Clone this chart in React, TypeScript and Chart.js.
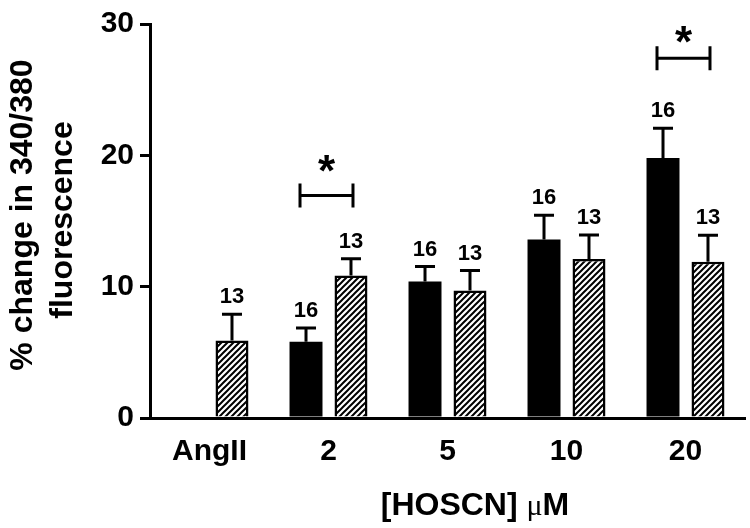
import React, { useEffect, useRef } from "react";
import { Chart, registerables } from "chart.js";

Chart.register(...registerables);

// ---- data ----
const categories = ["AngII", "2", "5", "10", "20"];
const blackValues = [null, 5.8, 10.4, 13.6, 19.8];
const blackErrors = [null, 1.06, 1.13, 1.84, 2.26];
const hatchedValues = [5.9, 10.85, 9.7, 12.1, 11.9];
const hatchedErrors = [2.0, 1.28, 1.53, 1.84, 2.02];
const blackN = [null, "16", "16", "16", "16"];
const hatchedN = ["13", "13", "13", "13", "13"];
const yTicks = [0, 10, 20, 30];
const sigCategories = [1, 4];
const sigBracketValues = [16.95, 27.4];
const sigStarValues = [19.4, 29.2];
const yTitleLines = ["% change in 340/380", "fluorescence"];
const xTitleParts = ["[HOSCN] ", "\u03bc", "M"];

const SANS = '"Liberation Sans", Arial, Helvetica, sans-serif';

function makeHatch(): CanvasPattern | string {
  const s = 6;
  const c = document.createElement("canvas");
  c.width = s;
  c.height = s;
  const g = c.getContext("2d");
  if (!g) return "#fff";
  g.fillStyle = "#fff";
  g.fillRect(0, 0, s, s);
  g.strokeStyle = "#000";
  g.lineWidth = 2;
  g.beginPath();
  g.moveTo(0, s);
  g.lineTo(s, 0);
  g.moveTo(-1, 1);
  g.lineTo(1, -1);
  g.moveTo(s - 1, s + 1);
  g.lineTo(s + 1, s - 1);
  g.stroke();
  return g.createPattern(c, "repeat") || "#fff";
}

const annotatePlugin = {
  id: "annotate",
  afterDatasetsDraw(chart: any) {
    const ctx = chart.ctx;
    const y = chart.scales.y;
    const errs = [blackErrors, hatchedErrors];
    const vals = [blackValues, hatchedValues];
    const ns = [blackN, hatchedN];
    ctx.save();
    ctx.strokeStyle = "#000";
    ctx.fillStyle = "#000";
    ctx.lineWidth = 3;
    ctx.lineCap = "butt";
    for (let d = 0; d < 2; d++) {
      const meta = chart.getDatasetMeta(d);
      meta.data.forEach((bar: any, i: number) => {
        const v = vals[d][i];
        const e = errs[d][i];
        if (v == null || e == null) return;
        const top = y.getPixelForValue(v + e);
        const x = bar.x;
        ctx.beginPath();
        ctx.moveTo(x, bar.y);
        ctx.lineTo(x, top);
        ctx.moveTo(x - 10, top);
        ctx.lineTo(x + 10, top);
        ctx.stroke();
        const label = ns[d][i];
        if (label) {
          ctx.font = `bold 22px ${SANS}`;
          ctx.textAlign = "center";
          ctx.textBaseline = "alphabetic";
          ctx.fillText(label, x, top - 11);
        }
      });
    }
    // significance brackets
    const m0 = chart.getDatasetMeta(0);
    const m1 = chart.getDatasetMeta(1);
    sigCategories.forEach((cat, k) => {
      const left = m0.data[cat].x - 6;
      const right = m1.data[cat].x + 2;
      const by = y.getPixelForValue(sigBracketValues[k]);
      ctx.beginPath();
      ctx.moveTo(left, by);
      ctx.lineTo(right, by);
      ctx.moveTo(left, by - 12);
      ctx.lineTo(left, by + 12);
      ctx.moveTo(right, by - 12);
      ctx.lineTo(right, by + 12);
      ctx.stroke();
      ctx.font = `bold 44px ${SANS}`;
      ctx.textAlign = "center";
      ctx.textBaseline = "alphabetic";
      const m = ctx.measureText("*");
      const sy = y.getPixelForValue(sigStarValues[k]);
      const asc = m.actualBoundingBoxAscent;
      const desc = m.actualBoundingBoxDescent;
      ctx.fillText("*", (left + right) / 2, sy + (asc - desc) / 2);
    });
    // x title
    ctx.textBaseline = "alphabetic";
    ctx.textAlign = "left";
    const fonts = [`bold 32px ${SANS}`, `30px "Liberation Serif", "Times New Roman", serif`, `bold 32px ${SANS}`];
    let total = 0;
    xTitleParts.forEach((p, i) => {
      ctx.font = fonts[i];
      total += ctx.measureText(p).width;
    });
    let tx = 475 - total / 2;
    const ty = 515;
    xTitleParts.forEach((p, i) => {
      ctx.font = fonts[i];
      ctx.fillText(p, tx, ty);
      tx += ctx.measureText(p).width;
    });
    // y title (two lines, rotated)
    const lineSpec = [
      { baseX: 32, centerY: 215 },
      { baseX: 72, centerY: 220 },
    ];
    yTitleLines.forEach((line, i) => {
      const spec = lineSpec[i];
      ctx.save();
      ctx.translate(spec.baseX, spec.centerY);
      ctx.rotate(-Math.PI / 2);
      ctx.font = `bold 32px ${SANS}`;
      ctx.textAlign = "center";
      ctx.textBaseline = "alphabetic";
      ctx.fillText(line, 0, 0);
      ctx.restore();
    });
    ctx.restore();
  },
};

export default function App() {
  const ref = useRef<HTMLCanvasElement | null>(null);
  useEffect(() => {
    if (!ref.current) return;
    const hatch = makeHatch();
    const chart = new Chart(ref.current, {
      type: "bar",
      data: {
        labels: categories,
        datasets: [
          {
            label: "black",
            data: blackValues as any,
            backgroundColor: "#000",
            borderWidth: 0,
            categoryPercentage: 0.756,
            barPercentage: 0.733,
          },
          {
            label: "hatched",
            data: hatchedValues,
            backgroundColor: hatch as any,
            borderColor: "#000",
            borderWidth: 2.5,
            categoryPercentage: 0.756,
            barPercentage: 0.733,
          },
        ],
      },
      options: {
        responsive: false,
        animation: false,
        devicePixelRatio: 1,
        layout: { padding: { top: 20, right: 5, left: 0, bottom: 0 } },
        plugins: {
          legend: { display: false },
          tooltip: { enabled: false },
        },
        scales: {
          x: {
            grid: { display: false, drawTicks: false },
            border: { display: true, color: "#000", width: 3 },
            ticks: {
              color: "#000",
              font: { family: SANS, size: 30, weight: "bold" },
              padding: 16,
            },
            afterFit: (s: any) => {
              s.height = 110;
            },
          },
          y: {
            min: 0,
            max: 30,
            afterBuildTicks: (s: any) => {
              s.ticks = yTicks.map((v) => ({ value: v }));
            },
            grid: {
              display: true,
              drawOnChartArea: false,
              drawTicks: true,
              tickLength: 10,
              color: "#000",
              lineWidth: 3,
            },
            border: { display: true, color: "#000", width: 3 },
            ticks: {
              color: "#000",
              font: { family: SANS, size: 30, weight: "bold" },
              padding: 6,
            },
            title: { display: false },
            afterFit: (s: any) => {
              s.width = 150;
            },
          },
        },
      },
      plugins: [annotatePlugin],
    });
    return () => chart.destroy();
  }, []);
  return (
    <div style={{ position: "fixed", left: 0, top: 0, width: 750, height: 528, background: "#fff" }}>
      <canvas ref={ref} width={750} height={528} />
    </div>
  );
}
